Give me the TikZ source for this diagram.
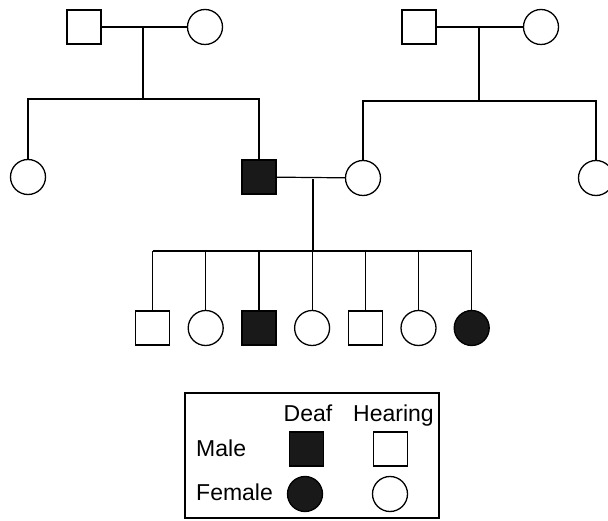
\documentclass[tikz,border=0pt]{standalone}
\usepackage{fontspec}
\setmainfont{Liberation Sans}
\usetikzlibrary{positioning}

\tikzset{
  male/.style={draw,line width=1.3pt,rectangle,minimum size=34pt,inner sep=0pt},
  female/.style={draw,line width=1.3pt,circle,minimum size=35pt,inner sep=0pt},
  deaf/.style={fill=black!90},
  link/.style={line width=1.2pt},
  lbl/.style={font=\fontsize{23}{27}\selectfont,inner sep=0pt}
}

\begin{document}
\begin{tikzpicture}[x=1pt,y=-1pt]
   \useasboundingbox (0,0) rectangle (608,521);
   \node[male]   (m1) at ( 84,27) {};
   \node[female] (f1) at (205,27) {};
   \node[male]   (m2) at (419,27) {};
   \node[female] (f2) at (541,27) {};
   \coordinate (c1) at (143,27);
   \coordinate (c2) at (479,27);
   \coordinate (s1L) at ( 28,99);
   \coordinate (s1R) at (259,99);
   \coordinate (s2L) at (363,101);
   \coordinate (s2R) at (596,101);
   \node[female] (a1) at ( 28,177) {};
   \node[male,deaf] (d1) at (259,177) {};
   \node[female] (w1) at (363,178) {};
   \node[female] (a2) at (596,178) {};
   \coordinate (c3) at (313,179);
   \coordinate (s3L) at (152.5,251);
   \coordinate (s3R) at (471.5,251);
   \node[male]        (k1) at (152.5,328) {};
   \node[female]      (k2) at (205.7,328) {};
   \node[male,deaf]   (k3) at (258.9,328) {};
   \node[female]      (k4) at (312.1,328) {};
   \node[male]        (k5) at (365.3,328) {};
   \node[female]      (k6) at (418.5,328) {};
   \node[female,deaf] (k7) at (471.7,328) {};
   \draw[link] (m1) -- (f1);
   \draw[link] (m2) -- (f2);
   \draw[link] (c1) -- (c1 |- s1L);
   \draw[link] (c2) -- (c2 |- s2L);
   \draw[link] (a1) |- (s1L) -- (s1R) -- (d1);
   \draw[link] (w1) |- (s2L) -- (s2R) -- (a2);
   \draw[link] (d1) -- (w1);
   \draw[link] (c3) -- (c3 |- s3L);
   \draw[link] (s3L) -- (s3R);
   \foreach \k in {k1,k2,k3,k4,k5,k6,k7}
     \draw[link] (\k) -- (\k |- s3L);
   \node[draw,line width=1.2pt,minimum width=254pt,minimum height=125pt,inner sep=0pt] (key) at (312,455.5) {};
   \node[lbl,anchor=base] (tdeaf) at (308,421.5) {Deaf};
   \node[lbl,anchor=base] (thear) at (393.5,421.5) {Hearing};
   \node[lbl,anchor=base west] (tmale) at (196,456) {Male};
   \node[lbl,anchor=base west] (tfem) at (196,500) {Female};
   \node[male,deaf]   (km1) at (306.5,449) {};
   \node[male]        (km2) at (390.5,449) {};
   \node[female,deaf] (kf1) at (305,494) {};
   \node[female]      (kf2) at (390,494) {};
\end{tikzpicture}
\end{document}
